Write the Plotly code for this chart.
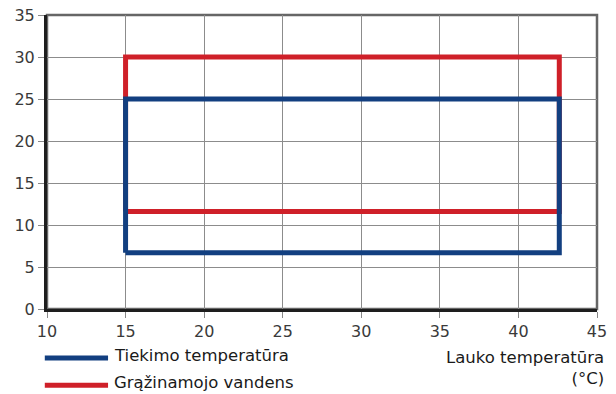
import plotly.graph_objects as go

# outdoor temperature (x) and water temperature (y) limits
tiekimo_x = [15, 42.6, 42.6, 15, 15]
tiekimo_y = [6.7, 6.7, 25, 25, 6.7]
grazinamo_x = [15, 42.6, 42.6, 15, 15]
grazinamo_y = [11.6, 11.6, 30, 30, 11.6]

x_ticks = [10, 15, 20, 25, 30, 35, 40, 45]
y_ticks = [0, 5, 10, 15, 20, 25, 30, 35]

legend_names = ["Tiekimo temperatūra", "Grąžinamojo vandens"]
x_title = "Lauko temperatūra<br>(°C)"

blue = "#123f80"
red = "#cf2029"
font = "'DejaVu Sans', sans-serif"

fig = go.Figure()
fig.add_trace(go.Scatter(x=grazinamo_x, y=grazinamo_y, mode="lines",
                         line=dict(color=red, width=5), name=legend_names[1],
                         showlegend=False))
fig.add_trace(go.Scatter(x=tiekimo_x, y=tiekimo_y, mode="lines",
                         line=dict(color=blue, width=5), name=legend_names[0],
                         showlegend=False))

# frame (top / right are greyer than the main axes)
fig.add_shape(type="rect", xref="paper", yref="paper", x0=0, x1=1, y0=0, y1=1,
              line=dict(color="#666", width=2.5), layer="below")

# hand-made legend under the plot
for i, (name, col) in enumerate(zip(legend_names, [blue, red])):
    yl = -0.167 - i * 0.092
    fig.add_shape(type="line", xref="paper", yref="paper", x0=-0.004, x1=0.111,
                  y0=yl, y1=yl, line=dict(color=col, width=5))
    fig.add_annotation(x=0.118, y=yl + 0.01, xref="paper", yref="paper",
                       text=name, showarrow=False, xanchor="left",
                       yanchor="middle", font=dict(size=16.5, color="#1a1a1a", family=font))

fig.add_annotation(x=1.016, y=-0.2, xref="paper", yref="paper", text=x_title,
                   showarrow=False, xanchor="right", yanchor="middle", align="right",
                   font=dict(size=16.5, color="#1a1a1a", family=font))

axis_common = dict(showline=True, linecolor="#1e1e1e", linewidth=3,
                   showgrid=True, gridcolor="#8c8c8c", gridwidth=1.3,
                   ticks="outside", ticklen=6, tickcolor="#888", tickwidth=1,
                   zeroline=False, automargin=False,
                   tickfont=dict(size=16, color="#3a3a3a", family=font))

fig.update_xaxes(range=[10, 45], tickvals=x_ticks, **axis_common)
fig.update_yaxes(range=[0, 35], tickvals=y_ticks, **axis_common)

fig.update_layout(width=616, height=394,
                  margin=dict(l=47, r=19, t=15, b=85),
                  plot_bgcolor="white", paper_bgcolor="white",
                  showlegend=False)

fig.write_html("out.html", config={"displayModeBar": False},
               post_script="document.body.style.margin='0';document.body.style.overflow='hidden';")
